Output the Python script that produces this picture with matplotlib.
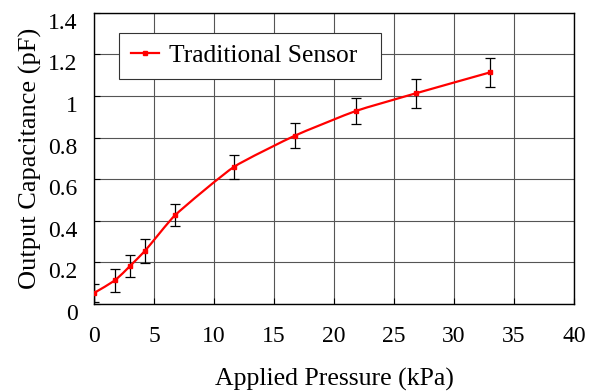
import numpy as np
import matplotlib.pyplot as plt
import matplotlib.transforms as mtransforms
from matplotlib.path import Path
from matplotlib.patches import PathPatch
from matplotlib.lines import Line2D

pressure = [0, 1.75, 3.0, 4.25, 6.75, 11.67, 16.75, 21.8, 26.8, 33.0]
capacitance = [0.053, 0.114, 0.183, 0.256, 0.427, 0.66, 0.81, 0.928, 1.013, 1.114]
error = [0.045, 0.056, 0.055, 0.058, 0.053, 0.058, 0.062, 0.064, 0.069, 0.068]
x_ticks = [0, 5, 10, 15, 20, 25, 30, 35, 40]
y_ticks = [0, 0.2, 0.4, 0.6, 0.8, 1.0, 1.2, 1.4]
y_labels = ["0", "0.2", "0.4", "0.6", "0.8", "1", "1.2", "1.4"]

plt.rcParams['font.family'] = ['Liberation Serif', 'DejaVu Serif']

def smooth_path(x, y, sx=40.0, sy=1.4, k=0.5):
  # lightly smoothed line: bezier with tangents from neighbours
  p = np.column_stack([np.asarray(x, float) / sx, np.asarray(y, float) / sy])
  n = len(p)
  tang = []
  for i in range(n):
    d = p[min(i + 1, n - 1)] - p[max(i - 1, 0)]
    tang.append(d / np.linalg.norm(d))
  verts = [p[0]]
  codes = [Path.MOVETO]
  for i in range(n - 1):
    L = np.linalg.norm(p[i + 1] - p[i]) / 3 * k
    verts += [p[i] + tang[i] * L, p[i + 1] - tang[i + 1] * L, p[i + 1]]
    codes += [Path.CURVE4] * 3
  verts = np.array(verts) * [sx, sy]
  return Path(verts, codes)

fig = plt.figure(figsize=(6.03, 3.91), dpi=100)
ax = fig.add_axes([0.156, 0.2225, 0.796, 0.7445])

ax.errorbar(pressure, capacitance, yerr=error, fmt="none", ecolor="black",
            elinewidth=0.9, capsize=3.5, capthick=0.9, zorder=3)
ax.add_patch(PathPatch(smooth_path(pressure, capacitance), facecolor="none",
                       edgecolor="red", lw=1.6, zorder=4))
ax.plot(pressure, capacitance, linestyle="none", marker="s", markersize=3.5,
        color="red", zorder=5)

ax.set_xlim(0, 40)
ax.set_ylim(0, 1.4)
ax.set_xticks(x_ticks)
ax.set_yticks(y_ticks)
ax.set_yticklabels(y_labels)
ax.tick_params(labelsize=17, direction="in", length=4, width=0.8)
ax.tick_params(axis="x", pad=16)
ax.tick_params(axis="y", pad=12)
ax.grid(True, color="#555555", linewidth=0.8)
ax.set_axisbelow(True)
for s in ax.spines.values():
  s.set_linewidth(1.0)
  s.set_color("black")

# y labels sit a bit lower than their ticks
off = mtransforms.ScaledTranslation(0, -8 / 100, fig.dpi_scale_trans)
for t in ax.get_yticklabels():
  t.set_transform(t.get_transform() + off)

ax.set_xlabel("Applied Pressure (kPa)", fontsize=18.5, labelpad=15)
ax.set_ylabel("Output Capacitance (pF)", fontsize=19, labelpad=4)

handle = Line2D([], [], color="red", lw=1.6, marker="s", markersize=3.5)
leg = ax.legend([handle], ["Traditional Sensor  "], loc="upper left",
                bbox_to_anchor=(0.052, 0.931), fontsize=18.4, fancybox=False,
                framealpha=1, edgecolor="#333333", handlelength=1.1,
                handletextpad=0.4, borderpad=0.45, borderaxespad=0)
leg.get_frame().set_linewidth(0.8)

plt.savefig("out.png", dpi=100)
